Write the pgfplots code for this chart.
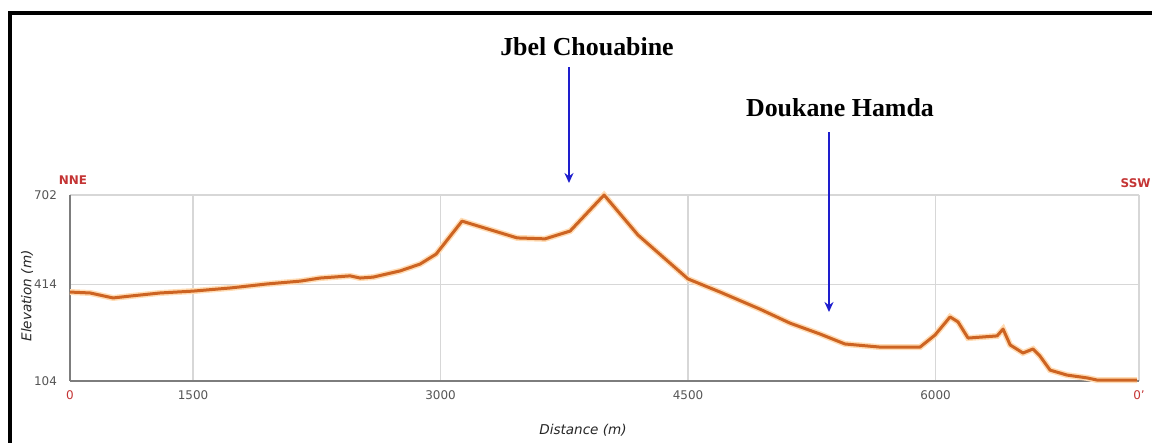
\documentclass[border=0pt]{standalone}
\usepackage{pgfplots}
\pgfplotsset{compat=1.18}
\usepackage{pgfplotstable}
\usepackage{fontspec}
\setmainfont{Liberation Serif}
\setsansfont{DejaVu Sans}
\usetikzlibrary{arrows.meta}

\definecolor{curve}{RGB}{205,100,35}
\definecolor{halo}{RGB}{255,220,180}
\definecolor{nred}{RGB}{196,52,52}
\definecolor{arrowblue}{RGB}{30,30,205}
\definecolor{gridgray}{RGB}{215,215,215}
\definecolor{axisgray}{RGB}{125,125,125}
\definecolor{labgray}{RGB}{85,85,85}

% distance (m), elevation (m)
\pgfplotstableread{
d     e
754   390
876   387
1015  371
1118  377
1300  387
1500  393
1724  403
1948  416
2148  425
2270  435
2452  442
2512  435
2591  438
2755  458
2876  480
2973  512
3130  618
3464  564
3633  561
3785  586
3991  702
4197  573
4500  432
4694  390
4936  335
5118  290
5300  255
5451  223
5664  213
5906  213
5997  252
6088  310
6136  294
6197  242
6373  249
6409  271
6452  220
6530  194
6591  207
6633  184
6694  139
6797  123
6918  114
6979  107
7221  107
}\profile

\begin{document}
\begin{tikzpicture}
\useasboundingbox (0,0) rectangle (576bp,221.5bp);
\begin{axis}[
  at={(35bp,31bp)}, anchor=south west,
  width=534.5bp, height=93bp, scale only axis,
  xmin=754, xmax=7233, ymin=104, ymax=702,
  axis lines=left,
  axis line style={-, draw=axisgray, line width=0.7pt},
  xtick={754,1500,3000,4500,6000,7233},
  xticklabels={\textcolor{nred}{0},1500,3000,4500,6000,\textcolor{nred}{0'}},
  ytick={104,414,702},
  yticklabels={104,414,702},
  grid=major,
  major grid style={gridgray, line width=0.6pt},
  major tick length=0pt,
  /pgf/number format/assume math mode=true,
  tick label style={font=\sffamily\fontsize{6}{7}\selectfont, text=labgray},
  xticklabel style={yshift=-1.5bp},
  yticklabel style={xshift=-3bp},
  clip=false,
]
\addplot[halo, line width=3bp] table[x=d, y=e] {\profile};
\addplot[curve, line width=1.5bp, line join=round] table[x=d, y=e] {\profile};
\end{axis}

\begin{scope}[x=0.5bp, y=0.5bp]
  \draw[line width=2bp] (10,-10) -- (10,430) -- (1170,430);
  \node[font=\bfseries\fontsize{13}{15}\selectfont] at (587,396) {Jbel Chouabine};
  \node[font=\bfseries\fontsize{13}{15}\selectfont] at (840,335) {Doukane Hamda};
  \draw[arrowblue, line width=1.2bp, -{Stealth[length=5bp, width=4.5bp]}] (569,376) -- (569,260);
  \draw[arrowblue, line width=1.2bp, -{Stealth[length=5bp, width=4.5bp]}] (829,311) -- (829,131);
  \node[font=\sffamily\bfseries\fontsize{6}{7}\selectfont, text=nred] at (73,263) {NNE};
  \node[font=\sffamily\bfseries\fontsize{6}{7}\selectfont, text=nred, anchor=east, inner sep=0pt] at (1151,260) {SSW};
  \node[font=\sffamily\itshape\fontsize{6.8}{8}\selectfont, text=black!85, rotate=90] at (27,147) {Elevation (m)};
  \node[font=\sffamily\itshape\fontsize{6.8}{8}\selectfont, text=black!85] at (583,13) {Distance (m)};
\end{scope}
\end{tikzpicture}
\end{document}
